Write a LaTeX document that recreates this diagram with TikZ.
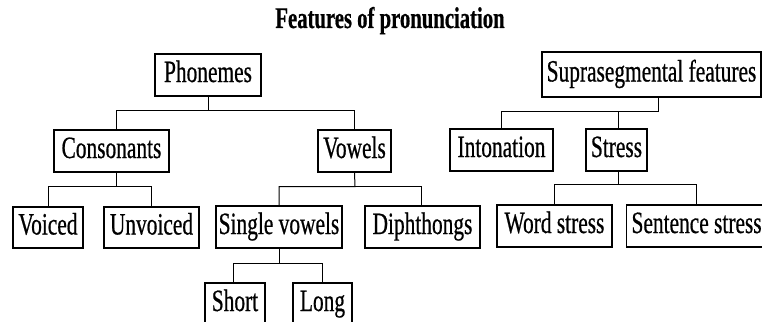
\documentclass[tikz,border=0pt]{standalone}
\usepackage{fontspec}
\setmainfont{Liberation Serif}[FakeStretch=0.69,FakeBold=0.6]
\begin{document}
\begin{tikzpicture}[x=1pt,y=-1pt,
  font=\fontsize{31}{34}\selectfont,
  box/.style={draw,line width=1.1pt,inner xsep=0pt,inner ysep=4pt,text height=23.5pt,text depth=9.5pt,minimum height=42pt},
  link/.style={line width=1pt}]
\useasboundingbox (0,0) rectangle (762,321);
\clip (0,0) rectangle (762,321);
\node[anchor=base,font=\fontsize{30}{33}\selectfont\bfseries] (title) at (390,28) {Features of pronunciation};
% left tree
\node[box,minimum width=106pt] (phon) at (208,75) {Phonemes};
\node[box,minimum width=115pt] (cons) at (111.5,151) {Consonants};
\node[box,minimum width=73pt] (vow) at (354.5,151) {Vowels};
\node[box,minimum width=70pt,minimum height=41pt] (voic) at (48,227.5) {Voiced};
\node[box,minimum width=95pt,minimum height=41pt] (unv) at (151.5,227.5) {Unvoiced};
\node[box,minimum width=126pt] (single) at (279,227) {Single vowels};
\node[box,minimum width=115pt] (diph) at (422.5,227) {Diphthongs};
\node[box,minimum width=60pt] (short) at (235,304) {Short};
\node[box,minimum width=59pt] (long) at (322.5,304) {Long};
% right tree
\node[box,minimum width=219pt,minimum height=45pt] (supra) at (651.5,74.5) {Suprasegmental features};
\node[box,minimum width=103pt] (inton) at (501.5,150) {Intonation};
\node[box,minimum width=61pt] (stress) at (616.5,150) {Stress};
\node[box,minimum width=115pt] (word) at (554.5,226) {Word stress};
\node[box,inner xsep=5pt,anchor=west] (sent) at (626,226) {Sentence stress};
% connectors
\coordinate (j1) at (208,110.5);
\draw[link] (phon.south) -- (j1) -| ([xshift=4.5pt]cons.north);
\draw[link] (j1) -| (vow.north);
\coordinate (j2) at (116,186.5);
\draw[link] ([xshift=4.5pt]cons.south) -- (j2) -| (voic.north);
\draw[link] (j2) -| (unv.north);
\coordinate (j3) at (355,186.5);
\draw[link] (vow.south) -- (j3) -| (single.north);
\draw[link] (j3) -| ([xshift=-1.5pt]diph.north);
\coordinate (j4) at (279,263.5);
\draw[link] (single.south) -- (j4) -| ([xshift=-2pt]short.north);
\draw[link] (j4) -| (long.north);
\coordinate (j5) at (658,111.5);
\draw[link] ([xshift=6.5pt]supra.south) -- (j5) -| (inton.north);
\draw[link] (j5) -| ([xshift=1.5pt]stress.north);
\coordinate (j6) at (618,184.5);
\draw[link] ([xshift=1.5pt]stress.south) -- (j6) -| (word.north);
\draw[link] (j6) -| (sent.north);
\end{tikzpicture}
\end{document}
